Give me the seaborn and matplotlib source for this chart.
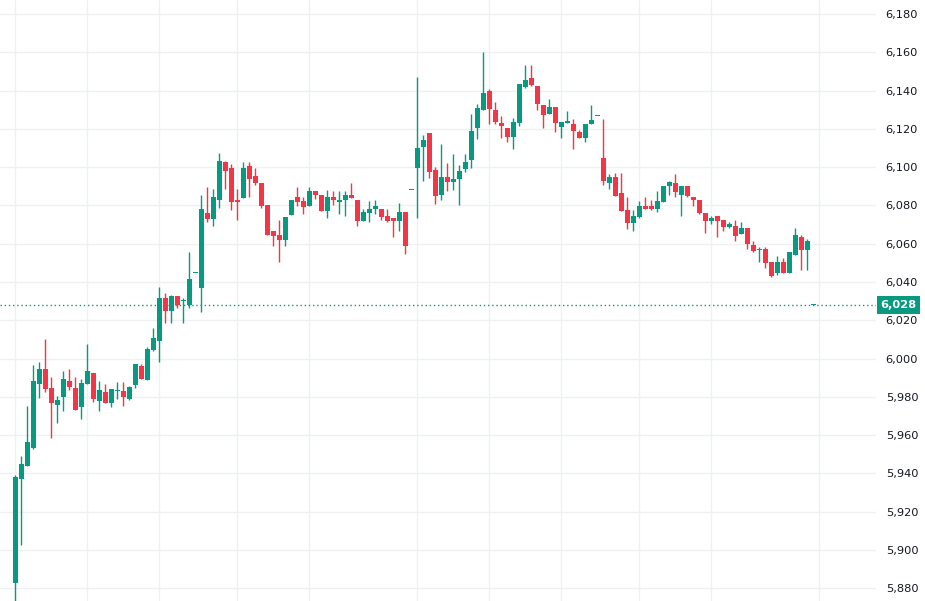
import numpy as np
import pandas as pd
import matplotlib
matplotlib.use("Agg")
import matplotlib.pyplot as plt
import matplotlib.transforms as mtransforms
import seaborn as sns

# OHLC values, one candle per entry
opens = [5882.6, 5936.9, 5943.8, 5953.5, 5986.7, 5994.4, 5984.5, 5975.7, 5979.9, 5988.1,
         5984.5, 5974.7, 5986.7, 5992.3, 5977.8, 5982.4, 5976.6, 5983.0, 5983.2, 5978.7,
         5986.0, 5996.3, 5988.6, 6004.7, 6009.1, 6031.4, 6024.8, 6032.5, 6030.0, 6027.9,
         6044.8, 6036.9, 6076.3, 6072.8, 6082.8, 6102.5, 6099.4, 6083.1, 6083.8, 6100.4,
         6095.2, 6091.7, 6080.0, 6066.4, 6064.3, 6061.8, 6074.9, 6084.2, 6082.1, 6079.7,
         6087.3, 6085.2, 6077.0, 6084.2, 6081.7, 6082.8, 6085.2, 6083.1, 6071.8, 6076.0,
         6078.1, 6078.4, 6074.3, 6073.2, 6071.8, 6076.5, 6088.0, 6099.8, 6110.6, 6117.9,
         6098.3, 6085.7, 6095.0, 6092.5, 6093.6, 6098.8, 6103.5, 6120.7, 6129.6, 6139.8,
         6129.9, 6123.1, 6120.5, 6116.0, 6123.3, 6141.9, 6146.6, 6142.4, 6132.7, 6128.0,
         6131.5, 6121.2, 6123.3, 6122.6, 6118.4, 6115.0, 6122.3, 6126.6, 6105.0, 6091.7,
         6095.1, 6086.3, 6077.4, 6070.8, 6073.9, 6079.5, 6079.5, 6078.1, 6081.7, 6089.9,
         6091.5, 6085.7, 6090.4, 6084.2, 6083.1, 6076.3, 6071.8, 6074.3, 6072.2, 6068.7,
         6069.0, 6065.0, 6068.0, 6059.1, 6056.8, 6057.0, 6050.3, 6044.7, 6050.3, 6044.7,
         6054.1, 6063.3, 6056.7, 6028.0]
highs = [5939.4, 5949.3, 5975.0, 5996.5, 5998.1, 6010.1, 5990.2, 5980.3, 5993.4, 5994.4,
         5990.2, 5989.2, 6007.5, 5992.3, 5988.1, 5986.5, 5984.3, 5988.0, 5988.0, 5985.5,
         5997.4, 5997.4, 6006.3, 6016.2, 6037.2, 6034.1, 6033.0, 6032.5, 6031.4, 6055.5,
         6044.9, 6085.2, 6089.4, 6088.4, 6107.2, 6103.1, 6101.5, 6088.4, 6102.5, 6102.5,
         6099.4, 6091.7, 6080.0, 6066.4, 6072.3, 6074.2, 6083.1, 6089.4, 6084.2, 6089.4,
         6087.3, 6085.2, 6088.3, 6087.3, 6087.3, 6087.3, 6091.5, 6083.1, 6078.4, 6082.1,
         6083.1, 6078.4, 6078.4, 6073.2, 6081.2, 6076.5, 6088.1, 6147.1, 6116.9, 6117.9,
         6100.2, 6112.2, 6102.3, 6107.0, 6101.2, 6107.0, 6127.8, 6133.0, 6160.2, 6140.9,
         6134.1, 6126.8, 6120.5, 6125.7, 6143.5, 6153.4, 6153.4, 6142.4, 6132.7, 6135.7,
         6131.5, 6123.7, 6129.4, 6124.9, 6119.5, 6122.6, 6132.5, 6126.7, 6125.4, 6096.2,
         6097.2, 6097.2, 6084.2, 6077.4, 6082.1, 6084.2, 6083.1, 6087.3, 6090.4, 6093.0,
         6096.2, 6090.4, 6090.4, 6084.2, 6083.1, 6076.3, 6074.3, 6074.3, 6072.2, 6071.1,
         6072.2, 6071.1, 6068.0, 6061.2, 6058.1, 6058.1, 6050.3, 6053.4, 6052.3, 6055.5,
         6068.0, 6064.3, 6062.3, 6028.1]
lows = [5873.0, 5902.4, 5943.8, 5953.0, 5979.2, 5982.5, 5958.4, 5966.3, 5972.6, 5983.4,
        5973.1, 5968.4, 5986.7, 5977.5, 5972.6, 5976.8, 5974.5, 5979.0, 5975.0, 5978.5,
        5984.5, 5989.2, 5988.6, 6004.2, 5998.1, 6018.5, 6018.5, 6026.4, 6018.5, 6026.4,
        6044.8, 6024.3, 6071.3, 6069.2, 6078.6, 6088.4, 6077.6, 6072.3, 6083.8, 6084.4,
        6090.7, 6078.6, 6064.5, 6059.0, 6050.3, 6059.0, 6074.9, 6079.7, 6075.5, 6079.7,
        6083.3, 6077.0, 6073.4, 6080.2, 6075.5, 6074.4, 6083.8, 6069.2, 6071.8, 6071.3,
        6075.5, 6072.3, 6071.3, 6063.5, 6066.6, 6054.6, 6088.0, 6073.2, 6093.0, 6094.1,
        6081.0, 6083.1, 6087.3, 6088.3, 6080.0, 6097.7, 6099.3, 6114.6, 6129.6, 6122.3,
        6122.3, 6115.0, 6112.9, 6109.7, 6121.7, 6141.4, 6142.4, 6129.6, 6120.7, 6128.0,
        6118.1, 6115.0, 6122.8, 6109.7, 6115.0, 6112.9, 6122.3, 6126.6, 6090.6, 6088.5,
        6084.9, 6077.0, 6067.7, 6066.6, 6073.4, 6078.1, 6077.6, 6076.5, 6081.7, 6085.7,
        6084.3, 6074.4, 6084.3, 6079.7, 6075.5, 6065.6, 6070.3, 6063.5, 6066.6, 6068.2,
        6061.4, 6065.0, 6057.2, 6055.5, 6050.3, 6047.3, 6042.6, 6043.7, 6044.7, 6044.7,
        6054.1, 6046.3, 6046.3, 6028.0]
closes = [5938.3, 5945.2, 5956.2, 5988.1, 5994.4, 5984.1, 5976.8, 5978.2, 5989.2, 5985.2,
          5973.1, 5987.1, 5993.4, 5978.9, 5983.4, 5976.8, 5984.3, 5983.4, 5979.7, 5985.3,
          5997.4, 5989.5, 6005.2, 6011.0, 6031.4, 6024.8, 6032.5, 6028.1, 6030.6, 6041.4,
          6044.9, 6078.4, 6072.8, 6084.2, 6103.1, 6098.0, 6081.7, 6081.7, 6099.4, 6093.8,
          6091.7, 6079.5, 6064.8, 6063.9, 6061.8, 6074.2, 6083.1, 6081.7, 6079.1, 6087.3,
          6085.7, 6077.0, 6084.2, 6082.8, 6083.1, 6085.2, 6083.8, 6071.8, 6076.5, 6078.4,
          6079.7, 6073.9, 6071.8, 6071.8, 6076.5, 6058.8, 6088.1, 6110.1, 6114.3, 6097.7,
          6084.7, 6095.0, 6092.5, 6093.9, 6098.1, 6102.8, 6119.0, 6131.0, 6138.8, 6130.6,
          6123.8, 6121.7, 6116.0, 6123.7, 6143.5, 6145.6, 6143.0, 6133.2, 6127.0, 6131.5,
          6123.3, 6123.7, 6123.7, 6119.1, 6115.0, 6122.6, 6124.7, 6126.7, 6092.7, 6095.1,
          6084.9, 6077.0, 6070.8, 6074.3, 6079.5, 6078.1, 6078.1, 6082.1, 6090.4, 6092.0,
          6086.8, 6090.4, 6084.9, 6082.8, 6076.0, 6071.8, 6073.2, 6071.8, 6068.7, 6070.1,
          6064.0, 6068.0, 6059.8, 6056.0, 6057.2, 6049.9, 6043.1, 6050.3, 6044.7, 6055.5,
          6064.3, 6056.7, 6061.2, 6028.1]
last_price = 6028
price_ticks = list(range(5880, 6181, 20))
time_grid = [0, 12, 24, 37, 49, 67, 79, 91, 104, 116, 134]

UP = "#089981"
DOWN = "#F23645"

df = pd.DataFrame({"open": opens, "high": highs, "low": lows, "close": closes})
df["x"] = np.arange(len(df))
df["color"] = np.where(df["close"] >= df["open"], UP, DOWN)
df["bottom"] = df[["open", "close"]].min(axis=1)
df["height"] = (df["close"] - df["open"]).abs().clip(lower=0.55)

sns.set_theme(style="white")
plt.rcParams["font.family"] = ["DejaVu Sans"]

fig = plt.figure(figsize=(9.25, 6.01), dpi=100)
ax = fig.add_axes([0, 0, 876 / 925, 1])

# grid
for p in price_ticks:
    ax.axhline(p, color="#eff0f3", lw=1, zorder=0)
for t in time_grid:
    ax.axvline(t, color="#eff0f3", lw=1, zorder=0)

# candles
ax.vlines(df["x"], df["low"], df["high"], colors=df["color"], lw=1, zorder=2)
ax.bar(df["x"], df["height"], bottom=df["bottom"], width=0.82,
       color=df["color"], linewidth=0, zorder=3)

# last price line + label
ax.axhline(last_price, color=UP, lw=1, linestyle=(0, (1, 2)), zorder=1)
trans = mtransforms.blended_transform_factory(ax.transAxes, ax.transData)
ax.text(1.005, last_price, f"{last_price:,}", transform=trans, ha="left", va="center",
        color="white", fontsize=8.2, fontweight="bold", zorder=5,
        bbox=dict(boxstyle="square,pad=0.32", fc=UP, ec="none"))

ax.set_xlim(-2.55, 143.45)
ax.set_ylim(5873.4, 6187.3)
ax.set_yticks(price_ticks)
ax.set_yticklabels([f"{p:,}" for p in price_ticks])
ax.yaxis.tick_right()
ax.tick_params(axis="y", length=0, pad=7, labelsize=8.2, labelcolor="#131722")
ax.set_xticks([])
for s in ax.spines.values():
    s.set_visible(False)
ax.grid(False)

fig.savefig("out.png", dpi=100, facecolor="white")
